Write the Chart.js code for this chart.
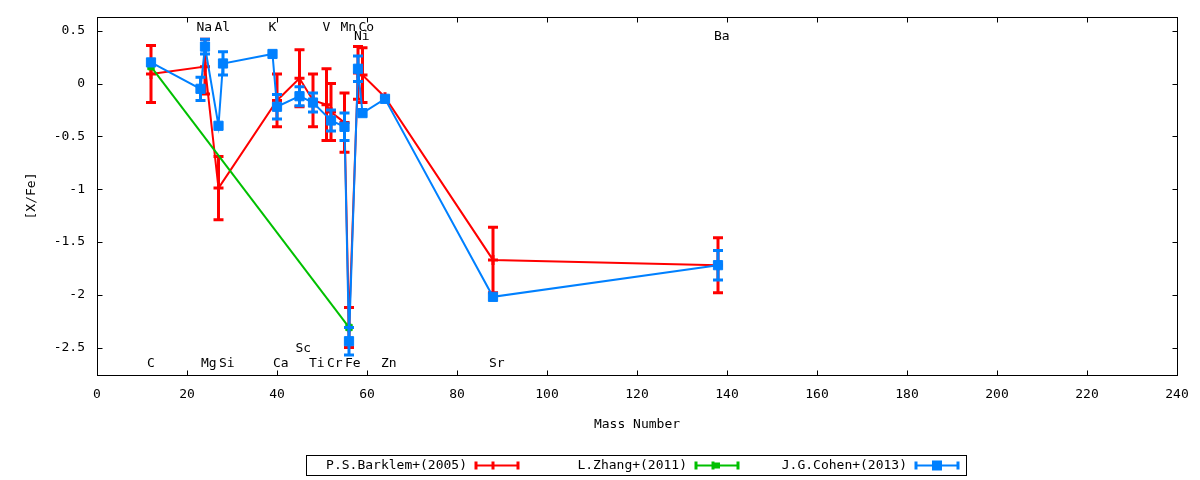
<!DOCTYPE html>
<html>
<head>
<meta charset="utf-8">
<script src="https://cdn.jsdelivr.net/npm/chart.js@4.4.0/dist/chart.umd.min.js"></script>
<style>
  html, body { margin: 0; padding: 0; background: #fff; }
  #wrap { width: 1200px; height: 480px; }
</style>
</head>
<body>
<div id="wrap"><canvas id="chart" width="1200" height="480"></canvas></div>
<script>
var MONO = "'DejaVu Sans Mono', 'Liberation Mono', monospace";

// axis ticks
var xTicks = [0, 20, 40, 60, 80, 100, 120, 140, 160, 180, 200, 220, 240];
var yTicks = [-2.5, -2, -1.5, -1, -0.5, 0, 0.5];

// element names written in the plot, at (mass, labelY)
var elemNames  = ["C", "Na", "Mg", "Al", "Si", "K", "Ca", "Sc", "Ti", "V", "Cr", "Mn", "Fe", "Ni", "Co", "Zn", "Sr", "Ba"];
var elemMass   = [12, 23, 24, 27, 28, 39, 40, 45, 48, 51, 52, 55, 56, 58, 59, 64, 88, 138];
var elemLabelY = [-2.65, 0.53, -2.65, 0.53, -2.65, 0.53, -2.65, -2.51, -2.65, 0.53, -2.65, 0.53, -2.65, 0.44, 0.53, -2.65, -2.65, 0.44];

// P.S.Barklem+(2005)
var barklemX   = [12, 24, 27, 40, 45, 48, 51, 52, 55, 56, 58, 59, 64, 88, 138];
var barklemY   = [0.09, 0.16, -0.99, -0.16, 0.05, -0.16, -0.20, -0.27, -0.37, -2.31, 0.10, 0.08, -0.13, -1.67, -1.72];
var barklemErr = [0.27, 0.26, 0.30, 0.25, 0.27, 0.25, 0.34, 0.27, 0.28, 0.19, 0.25, 0.26, 0, 0.31, 0.26];

// L.Zhang+(2011)
var zhangX   = [12, 56];
var zhangY   = [0.16, -2.31];
var zhangErr = [0, 0];

// J.G.Cohen+(2013)
var cohenX   = [12, 23, 24, 27, 28, 39, 40, 45, 48, 52, 55, 56, 58, 59, 64, 88, 138];
var cohenY   = [0.20, -0.05, 0.35, -0.40, 0.19, 0.28, -0.22, -0.12, -0.18, -0.35, -0.41, -2.44, 0.14, -0.28, -0.145, -2.02, -1.72];
var cohenErr = [0, 0.11, 0.07, 0, 0.11, 0, 0.115, 0.09, 0.09, 0.10, 0.13, 0.13, 0.12, 0, 0, 0, 0.14];

var seriesNames = ["P.S.Barklem+(2005)", "L.Zhang+(2011)", "J.G.Cohen+(2013)"];
var seriesColors = ["#ff0000", "#00c000", "#0080ff"];

function toPoints(xs, ys) {
  return xs.map(function(x, i) { return {x: x, y: ys[i]}; });
}

var errs = [barklemErr, zhangErr, cohenErr];

//vertical error bars with caps, drawn under the points of each set
function drawErrorBars(chart, i) {
  var ds = chart.data.datasets[i];
  var xs = chart.scales.x, ys = chart.scales.y;
  var c = chart.ctx;
  var e = errs[i];
  c.save();
  c.strokeStyle = seriesColors[i];
  c.lineWidth = 3;
  ds.data.forEach(function(p, k) {
    if (!e[k]) return;
    var px = xs.getPixelForValue(p.x);
    var top = ys.getPixelForValue(p.y + e[k]);
    var bot = ys.getPixelForValue(p.y - e[k]);
    c.beginPath();
    c.moveTo(px, top); c.lineTo(px, bot);
    c.moveTo(px - 5, top); c.lineTo(px + 5, top);
    c.moveTo(px - 5, bot); c.lineTo(px + 5, bot);
    c.stroke();
  });
  c.restore();
}

function drawLegend(c) {
  c.save();
  c.strokeStyle = "#000";
  c.lineWidth = 1;
  c.strokeRect(306.5, 455.5, 660, 20);
  c.font = "13px " + MONO;
  c.fillStyle = "#000";
  c.textAlign = "right";
  c.textBaseline = "middle";
  var y = 465.5;
  for (var k = 0; k < 3; k++) {
    var s = 476 + 220 * k;
    c.fillText(seriesNames[k], s - 9, y);
    c.strokeStyle = seriesColors[k];
    c.fillStyle = seriesColors[k];
    c.lineWidth = 2;
    c.beginPath();
    c.moveTo(s, y); c.lineTo(s + 42, y);
    c.stroke();
    c.lineWidth = 3;
    c.beginPath();
    c.moveTo(s, y - 4); c.lineTo(s, y + 4);
    c.moveTo(s + 42, y - 4); c.lineTo(s + 42, y + 4);
    c.stroke();
    if (k == 0) {
      c.beginPath();
      c.moveTo(s + 17, y - 4); c.lineTo(s + 17, y + 4);
      c.stroke();
    } else if (k == 1) {
      c.fillRect(s + 18, y - 3, 6, 6);
      c.beginPath();
      c.moveTo(s + 17, y - 4); c.lineTo(s + 17, y + 4);
      c.stroke();
    } else {
      c.fillRect(s + 16, y - 5, 10, 10);
    }
    c.fillStyle = "#000";
  }
  c.restore();
}

var decor = {
  id: "decor",
  beforeDatasetDraw: function(chart, args) {
    drawErrorBars(chart, args.index);
  },
  afterDraw: function(chart) {
    var c = chart.ctx, a = chart.chartArea;
    var xs = chart.scales.x, ys = chart.scales.y;
    c.save();
    // frame and mirrored inward ticks
    c.strokeStyle = "#000";
    c.lineWidth = 1;
    var L = Math.round(a.left) + 0.5, R = Math.round(a.right) + 0.5;
    var T = Math.round(a.top) + 0.5, B = Math.round(a.bottom) + 0.5;
    c.strokeRect(L, T, R - L, B - T);
    c.beginPath();
    xTicks.forEach(function(v) {
      var px = Math.round(xs.getPixelForValue(v)) + 0.5;
      c.moveTo(px, B); c.lineTo(px, B - 5);
      c.moveTo(px, T); c.lineTo(px, T + 5);
    });
    yTicks.forEach(function(v) {
      var py = Math.round(ys.getPixelForValue(v)) + 0.5;
      c.moveTo(L, py); c.lineTo(L + 5, py);
      c.moveTo(R, py); c.lineTo(R - 5, py);
    });
    c.stroke();

    // element labels
    c.font = "13px " + MONO;
    c.fillStyle = "#000";
    c.textAlign = "left";
    c.textBaseline = "middle";
    elemNames.forEach(function(n, i) {
      c.fillText(n, xs.getPixelForValue(elemMass[i]) - 4, ys.getPixelForValue(elemLabelY[i]));
    });

    // axis titles
    c.textAlign = "center";
    c.fillText("Mass Number", (a.left + a.right) / 2, 425);
    c.save();
    c.translate(32, (a.top + a.bottom) / 2);
    c.rotate(-Math.PI / 2);
    c.fillText("[X/Fe]", 0, 0);
    c.restore();
    c.restore();

    drawLegend(c);
  }
};

new Chart(document.getElementById("chart"), {
  type: "scatter",
  data: {
    datasets: [{
      label: seriesNames[0],
      data: toPoints(barklemX, barklemY),
      showLine: true,
      borderColor: seriesColors[0],
      backgroundColor: seriesColors[0],
      borderWidth: 2,
      pointStyle: "cross",
      pointRadius: 5,
      pointBorderWidth: 3,
      order: 3
    }, {
      label: seriesNames[1],
      data: toPoints(zhangX, zhangY),
      showLine: true,
      borderColor: seriesColors[1],
      backgroundColor: seriesColors[1],
      borderWidth: 2,
      pointStyle: "rect",
      pointRadius: 4.5,
      pointBorderWidth: 1,
      order: 2
    }, {
      label: seriesNames[2],
      data: toPoints(cohenX, cohenY),
      showLine: true,
      borderColor: seriesColors[2],
      backgroundColor: seriesColors[2],
      borderWidth: 2,
      pointStyle: "rect",
      pointRadius: 6.5,
      pointBorderWidth: 1,
      order: 1
    }]
  },
  options: {
    responsive: false,
    animation: false,
    devicePixelRatio: 1,
    events: [],
    layout: { padding: { left: 0, top: 17, right: 23, bottom: 0 } },
    plugins: {
      legend: { display: false },
      tooltip: { enabled: false }
    },
    scales: {
      x: {
        type: "linear",
        min: 0,
        max: 240,
        grid: { display: false, drawTicks: false },
        border: { display: false },
        afterBuildTicks: function(s) { s.ticks = xTicks.map(function(v) { return {value: v}; }); },
        afterFit: function(s) { s.height = 105; s.paddingLeft = 0; s.paddingRight = 0; },
        ticks: {
          color: "#000",
          padding: 12,
          maxRotation: 0,
          font: { family: MONO, size: 13 },
          callback: function(v) { return String(v); }
        }
      },
      y: {
        type: "linear",
        min: -2.76,
        max: 0.63,
        grid: { display: false, drawTicks: false },
        border: { display: false },
        afterBuildTicks: function(s) { s.ticks = yTicks.map(function(v) { return {value: v}; }); },
        afterFit: function(s) { s.width = 97; s.paddingTop = 0; s.paddingBottom = 0; },
        ticks: {
          color: "#000",
          padding: 12,
          font: { family: MONO, size: 13 },
          callback: function(v) { return String(v); }
        }
      }
    }
  },
  plugins: [decor]
});
</script>
</body>
</html>
